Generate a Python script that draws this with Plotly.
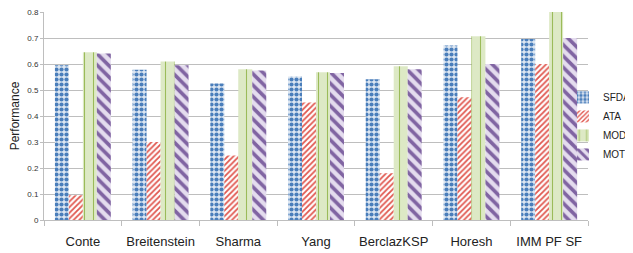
import plotly.graph_objects as go

categories = ["Conte", "Breitenstein", "Sharma", "Yang", "BerclazKSP", "Horesh", "IMM PF SF"]
series_names = ["SFDA", "ATA", "MODP", "MOTP"]
sfda = [0.595, 0.578, 0.525, 0.552, 0.541, 0.671, 0.696]
ata = [0.095, 0.300, 0.248, 0.452, 0.180, 0.472, 0.600]
modp = [0.645, 0.610, 0.580, 0.568, 0.591, 0.707, 0.800]
motp = [0.640, 0.595, 0.575, 0.565, 0.580, 0.600, 0.700]
y_ticks = [0, 0.1, 0.2, 0.3, 0.4, 0.5, 0.6, 0.7, 0.8]
y_tick_labels = ["0", "0.1", "0.2", "0.3", "0.4", "0.5", "0.6", "0.7", "0.8"]

styles = [
    dict(shape=".", fgcolor="#4A7EBB", bgcolor="#DCE6F2", size=5, solidity=0.55),
    dict(shape="/", fgcolor="#E0574F", bgcolor="#FFFFFF", size=4, solidity=0.45),
    dict(shape="|", fgcolor="#9BBB59", bgcolor="#DDE9C5", size=9, solidity=0.12),
    dict(shape="\\", fgcolor="#8064A2", bgcolor="#E4DCEE", size=8, solidity=0.45),
]

fig = go.Figure()
for name, vals, st in zip(series_names, [sfda, ata, modp, motp], styles):
    fig.add_trace(go.Bar(
        name=name, x=categories, y=vals,
        marker=dict(color=st["bgcolor"], line=dict(width=0),
                    pattern=dict(shape=st["shape"], fgcolor=st["fgcolor"], bgcolor=st["bgcolor"],
                                 size=st["size"], solidity=st["solidity"], fillmode="replace")),
    ))

fig.update_layout(
    width=625, height=245,
    margin=dict(l=36, r=45, t=4, b=33, autoexpand=False),
    paper_bgcolor="white", plot_bgcolor="white",
    barmode="group", bargap=0.28, bargroupgap=0,
    font=dict(family="Liberation Sans, Arial, sans-serif", color="#222222"),
    legend=dict(x=0.954, y=0.659, xanchor="left", yanchor="top", font=dict(size=10),
                itemwidth=30, tracegroupgap=0, bgcolor="rgba(0,0,0,0)"),
    showlegend=True,
)
fig.update_yaxes(range=[0, 0.8], tickvals=y_ticks, ticktext=y_tick_labels,
                 tickfont=dict(size=8, color="#333333"), ticklabeloverflow="allow",
                 showgrid=True, gridcolor="#BEBEBE", gridwidth=1,
                 showline=True, linecolor="#BEBEBE", linewidth=1,
                 ticks="outside", ticklen=3, tickcolor="#BEBEBE",
                 title=dict(text="Performance", font=dict(size=12, color="#222222"), standoff=10),
                 zeroline=False)
fig.update_xaxes(tickfont=dict(size=13, color="#222222"), tickangle=0,
                 ticklabelstandoff=9, ticklabeloverflow="allow",
                 showline=True, linecolor="#BEBEBE", linewidth=1,
                 ticks="outside", tickson="boundaries", ticklen=5, tickcolor="#BEBEBE",
                 showgrid=False)

fig.write_html("out.html")
